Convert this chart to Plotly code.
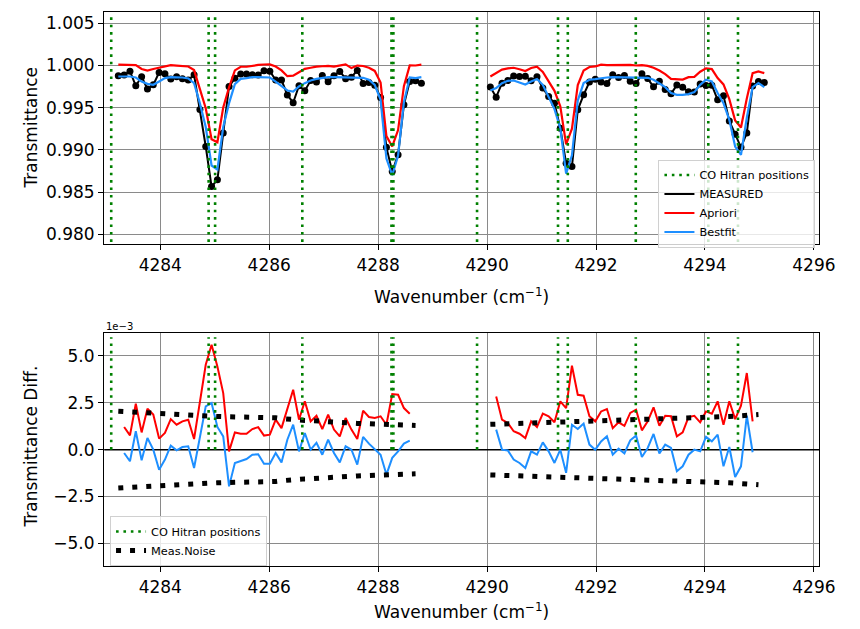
import plotly.graph_objects as go

# ---------------- data ----------------
WN1 = [4283.230, 4283.337, 4283.444, 4283.551, 4283.658, 4283.765, 4283.872, 4283.979,
       4284.086, 4284.193, 4284.300, 4284.407, 4284.514, 4284.621, 4284.728, 4284.835,
       4284.942, 4285.049, 4285.156, 4285.263, 4285.370, 4285.477, 4285.584, 4285.691,
       4285.798, 4285.905, 4286.012, 4286.119, 4286.226, 4286.333, 4286.440, 4286.547,
       4286.654, 4286.761, 4286.868, 4286.975, 4287.082, 4287.189, 4287.296, 4287.403,
       4287.510, 4287.617, 4287.724, 4287.831, 4287.938, 4288.045, 4288.152, 4288.259,
       4288.366, 4288.473, 4288.580, 4288.687, 4288.794]
WN2 = [4290.060, 4290.167, 4290.274, 4290.381, 4290.488, 4290.595, 4290.702, 4290.809,
       4290.916, 4291.023, 4291.130, 4291.237, 4291.344, 4291.451, 4291.558, 4291.665,
       4291.772, 4291.879, 4291.986, 4292.093, 4292.200, 4292.307, 4292.414, 4292.521,
       4292.628, 4292.735, 4292.842, 4292.949, 4293.056, 4293.163, 4293.270, 4293.377,
       4293.484, 4293.591, 4293.698, 4293.805, 4293.912, 4294.019, 4294.126, 4294.233,
       4294.340, 4294.447, 4294.554, 4294.661, 4294.768, 4294.875, 4294.982, 4295.089]

MEASURED1 = [0.99878, 0.99888, 0.99932, 0.99760, 0.99867, 0.99721, 0.99771, 0.99917,
             0.99903, 0.99841, 0.99866, 0.99844, 0.99828, 0.99889, 0.99480, 0.99040,
             0.98566, 0.98646, 0.99200, 0.99750, 0.99850, 0.99900, 0.99900, 0.99889,
             0.99887, 0.99937, 0.99933, 0.99828, 0.99827, 0.99651, 0.99559, 0.99760,
             0.99702, 0.99822, 0.99806, 0.99881, 0.99809, 0.99880, 0.99930, 0.99844,
             0.99862, 0.99942, 0.99786, 0.99799, 0.99767, 0.99621, 0.99030, 0.98744,
             0.98942, 0.99534, 0.99810, 0.99820, 0.99791]
MEASURED2 = [0.99744, 0.99625, 0.99791, 0.99823, 0.99875, 0.99870, 0.99873, 0.99819,
             0.99866, 0.99732, 0.99633, 0.99554, 0.99258, 0.98843, 0.98803, 0.99475,
             0.99653, 0.99804, 0.99838, 0.99806, 0.99787, 0.99889, 0.99857, 0.99882,
             0.99812, 0.99787, 0.99901, 0.99845, 0.99747, 0.99812, 0.99717, 0.99664,
             0.99768, 0.99742, 0.99688, 0.99685, 0.99780, 0.99763, 0.99766, 0.99593,
             0.99643, 0.99343, 0.99186, 0.99031, 0.99200, 0.99758, 0.99810, 0.99799]

# model minus measurement, in units of 1e-3
DIFF_APRIORI1 = [1.32, 1.21, 0.76, 2.45, 0.92, 2.19, 1.87, 0.59, 0.89, 1.63, 1.33, 1.51,
                 1.60, 0.57, 2.49, 4.53, 5.60, 4.44, 3.02, -0.09, 0.92, 0.85, 0.85, 1.10,
                 1.20, 0.75, 0.80, 1.60, 1.15, 2.22, 3.20, 1.60, 2.58, 1.51, 1.81, 1.10,
                 1.87, 1.07, 0.71, 1.69, 1.07, 0.57, 2.08, 1.74, 1.69, 1.78, 1.33, 2.97,
                 2.93, 2.22, 1.92, 1.80, 2.19]
DIFF_BESTFIT1 = [-0.08, -0.18, -0.62, 0.98, -0.57, 0.62, 0.00, -1.07, -0.53, 0.21, -0.04,
                 0.14, 0.18, -0.98, 0.71, 2.31, 2.49, 1.21, 0.71, -1.96, -0.71, -0.59,
                 -0.50, -0.27, -0.25, -0.75, -0.75, -0.18, -0.68, 0.53, 1.33, -0.09, 0.89,
                 0.00, 0.36, -0.27, 0.53, -0.18, -0.68, 0.18, 0.00, -0.80, 0.68, 0.32,
                 0.04, -0.27, -1.33, -0.44, -0.09, 0.32, 0.48, 0.31, 0.71]
DIFF_APRIORI2 = [1.26, 2.84, 1.60, 1.42, 0.98, 0.85, 0.62, 1.51, 1.21, 1.92, 1.78, 1.46,
                 2.58, 2.22, 4.48, 2.93, 2.88, 1.78, 1.51, 2.04, 2.17, 1.15, 1.46, 1.27,
                 1.96, 2.13, 1.03, 1.51, 2.26, 1.28, 1.81, 1.78, 0.71, 0.92, 1.74, 1.81,
                 1.46, 2.04, 1.92, 2.58, 1.33, 2.58, 1.63, 2.35, 4.09, 1.51, 1.19, 1.11]
DIFF_BESTFIT2 = [-0.40, 1.07, 0.00, -0.04, -0.53, -0.71, -0.98, -0.09, -0.27, 0.39, -0.09,
                 -0.71, 0.00, -1.24, 1.33, 1.10, 1.39, 0.27, 0.00, 0.44, 0.71, -0.27, 0.05,
                 -0.20, 0.50, 0.75, -0.39, 0.09, 0.84, -0.21, 0.27, 0.09, -1.15, -0.89,
                 -0.27, 0.00, -0.09, 0.68, 0.44, 0.80, -0.89, 0.14, -1.46, -0.89, 1.81,
                 -0.14, -0.19, -0.55]

NOISE1 = [2.05, 2.03, 2.01, 1.99, 1.97, 1.95, 1.93, 1.91, 1.89, 1.87, 1.86, 1.84, 1.82,
          1.81, 1.80, 1.79, 1.78, 1.77, 1.76, 1.76, 1.75, 1.75, 1.74, 1.74, 1.74, 1.73,
          1.72, 1.70, 1.66, 1.62, 1.59, 1.57, 1.56, 1.55, 1.54, 1.52, 1.50, 1.48, 1.46,
          1.44, 1.42, 1.40, 1.39, 1.38, 1.37, 1.36, 1.35, 1.34, 1.32, 1.31, 1.30, 1.29]
NOISE2 = [1.35, 1.36, 1.36, 1.37, 1.37, 1.38, 1.38, 1.39, 1.40, 1.40, 1.41, 1.42, 1.42,
          1.43, 1.44, 1.45, 1.46, 1.47, 1.48, 1.49, 1.50, 1.52, 1.53, 1.55, 1.56, 1.58,
          1.59, 1.60, 1.61, 1.62, 1.63, 1.64, 1.65, 1.66, 1.67, 1.68, 1.69, 1.70, 1.71,
          1.73, 1.75, 1.77, 1.79, 1.81, 1.83, 1.85, 1.87]

HITRAN = [4283.10, 4284.888, 4285.007, 4286.608, 4288.245, 4288.28, 4289.816,
          4291.302, 4291.482, 4292.730, 4294.061, 4294.606]

X_TICKS = [4284, 4286, 4288, 4290, 4292, 4294, 4296]
TOP_Y_TICKS = [0.980, 0.985, 0.990, 0.995, 1.000, 1.005]
DIFF_TICKS = [-5.0, -2.5, 0.0, 2.5, 5.0]
DIFF_TICK_LABELS = ["−5.0", "−2.5", "0.0", "2.5", "5.0"]
SCALE = 1e-3

# ---------------- derived series ----------------
def join(a, b):
    return list(a) + [None] + list(b)

apr1 = [m + r * SCALE for m, r in zip(MEASURED1, DIFF_APRIORI1)]
apr2 = [m + r * SCALE for m, r in zip(MEASURED2, DIFF_APRIORI2)]
bf1 = [m + b * SCALE for m, b in zip(MEASURED1, DIFF_BESTFIT1)]
bf2 = [m + b * SCALE for m, b in zip(MEASURED2, DIFF_BESTFIT2)]

n1 = min(len(WN1), len(MEASURED1))
n2 = min(len(WN2), len(MEASURED2))
x_top = join(WN1[:n1], WN2[:n2])

# difference panel uses the inner points (edges trimmed)
s1, e1 = 1, n1 - 2
s2, e2 = 1, n2 - 2
x_diff = join(WN1[s1:e1], WN2[s2:e2])
d_apr = join([v * SCALE for v in DIFF_APRIORI1[s1:e1]], [v * SCALE for v in DIFF_APRIORI2[s2:e2]])
d_bf = join([v * SCALE for v in DIFF_BESTFIT1[s1:e1]], [v * SCALE for v in DIFF_BESTFIT2[s2:e2]])

xn1 = WN1[:len(NOISE1)]
xn2 = WN2[:len(NOISE2)]
noise_x = xn1 + [None] + xn2 + [None] + xn1 + [None] + xn2
noise_y = ([v * SCALE for v in NOISE1] + [None] + [v * SCALE for v in NOISE2] + [None]
           + [-v * SCALE for v in NOISE1] + [None] + [-v * SCALE for v in NOISE2])

def vlines(positions, lo, hi):
    xs, ys = [], []
    for p in positions:
        xs += [p, p, None]
        ys += [lo, hi, None]
    return xs, ys

hx_top, hy_top = vlines(HITRAN, 0.9791, 1.0059)
hx_bot, hy_bot = vlines(HITRAN, 0.0, 6.0e-3)

GREEN = "#008000"
RED = "#ff0000"
BLUE = "#1e8fff"
FONT = "DejaVu Sans"
XR = [4282.97, 4296.1]

fig = go.Figure()

# bottom zero line (drawn first, beneath the data)
fig.add_trace(go.Scatter(x=XR, y=[0, 0], mode="lines", line=dict(color="black", width=1.5),
                         showlegend=False, hoverinfo="skip", xaxis="x2", yaxis="y2"))

# top panel
fig.add_trace(go.Scatter(x=x_top, y=join(MEASURED1[:n1], MEASURED2[:n2]), mode="lines",
                         line=dict(color="black", width=2), name="MEASURED",
                         legend="legend", legendrank=2, xaxis="x", yaxis="y"))
fig.add_trace(go.Scatter(x=x_top, y=join(MEASURED1[:n1], MEASURED2[:n2]), mode="markers",
                         marker=dict(color="black", size=7), showlegend=False,
                         xaxis="x", yaxis="y"))
fig.add_trace(go.Scatter(x=x_top, y=join(apr1[:n1], apr2[:n2]), mode="lines",
                         line=dict(color=RED, width=2.2), name="Apriori",
                         legend="legend", legendrank=3, xaxis="x", yaxis="y"))
fig.add_trace(go.Scatter(x=x_top, y=join(bf1[:n1], bf2[:n2]), mode="lines",
                         line=dict(color=BLUE, width=2.2), name="Bestfit",
                         legend="legend", legendrank=4, xaxis="x", yaxis="y"))
fig.add_trace(go.Scatter(x=hx_top, y=hy_top, mode="lines",
                         line=dict(color=GREEN, width=2.6, dash="2.6px,4.8px"),
                         name="CO Hitran positions", legend="legend", legendrank=1,
                         xaxis="x", yaxis="y"))

# bottom panel
fig.add_trace(go.Scatter(x=x_diff, y=d_apr, mode="lines", line=dict(color=RED, width=2),
                         showlegend=False, xaxis="x2", yaxis="y2"))
fig.add_trace(go.Scatter(x=x_diff, y=d_bf, mode="lines", line=dict(color=BLUE, width=2),
                         showlegend=False, xaxis="x2", yaxis="y2"))
fig.add_trace(go.Scatter(x=noise_x, y=noise_y, mode="lines",
                         line=dict(color="black", width=5, dash="5px,9px"),
                         name="Meas.Noise", legend="legend2", legendrank=2,
                         xaxis="x2", yaxis="y2"))
fig.add_trace(go.Scatter(x=hx_bot, y=hy_bot, mode="lines",
                         line=dict(color=GREEN, width=2.6, dash="2.6px,4.8px"),
                         name="CO Hitran positions", legend="legend2", legendrank=1,
                         xaxis="x2", yaxis="y2"))

# the page places the figure 8 px from the window's top-left corner;
# positions below are window pixels, converted to figure fractions
OFF = 8
W, H = 846, 629

def px(x):
    return (x - OFF) / W

def py(y):
    return 1 - (y - OFF) / H

xdom = [px(106), px(835)]
ydom_top = [py(244), py(12)]
ydom_bot = [py(566), py(333.3)]

axis_common = dict(showline=True, linecolor="black", linewidth=1.3, mirror=True,
                   ticks="outside", ticklen=5, tickwidth=1.3, tickcolor="black",
                   showgrid=True, gridcolor="#8a8a8a", gridwidth=1.4, zeroline=False,
                   tickfont=dict(family=FONT, size=17, color="black"))

def label(text, x, y, angle=0, size=17, xanchor="center"):
    return dict(text=text, x=px(x), y=py(y), xref="paper", yref="paper",
                xanchor=xanchor, yanchor="middle", textangle=angle, showarrow=False,
                font=dict(family=FONT, size=size, color="black"))

fig.update_layout(
    width=W, height=H, margin=dict(l=0, r=0, t=0, b=0), autosize=False,
    paper_bgcolor="white", plot_bgcolor="white",
    font=dict(family=FONT, color="black"),
    xaxis=dict(domain=xdom, range=XR, tickvals=X_TICKS, anchor="y", **axis_common),
    yaxis=dict(domain=ydom_top, range=[0.97885, 1.00634], tickvals=TOP_Y_TICKS,
               tickformat=".3f", anchor="x", **axis_common),
    xaxis2=dict(domain=xdom, range=XR, tickvals=X_TICKS, anchor="y2", **axis_common),
    yaxis2=dict(domain=ydom_bot, range=[-6.21e-3, 6.21e-3],
                tickvals=[v * SCALE for v in DIFF_TICKS], ticktext=DIFF_TICK_LABELS,
                anchor="x2", **axis_common),
    legend=dict(x=px(831), y=py(203.5), xanchor="right", yanchor="middle",
                bgcolor="rgba(255,255,255,0.8)", bordercolor="#d0d0d0", borderwidth=1,
                font=dict(family=FONT, size=11.3, color="black"), itemwidth=30),
    legend2=dict(x=px(112), y=py(541), xanchor="left", yanchor="middle",
                 bgcolor="rgba(255,255,255,0.8)", bordercolor="#d0d0d0", borderwidth=1,
                 font=dict(family=FONT, size=11.3, color="black"), itemwidth=30),
    annotations=[
        label("Transmittance", 31, 128, angle=-90),
        label("Wavenumber (cm<sup>−1</sup>)", 470.5, 296),
        label("Transmittance Diff.", 31, 447, angle=-90),
        label("Wavenumber (cm<sup>−1</sup>)", 470.5, 611),
        label("1e−3", 106, 326, size=10, xanchor="left"),
    ],
)

fig.write_html("out.html", config={"displayModeBar": False})
